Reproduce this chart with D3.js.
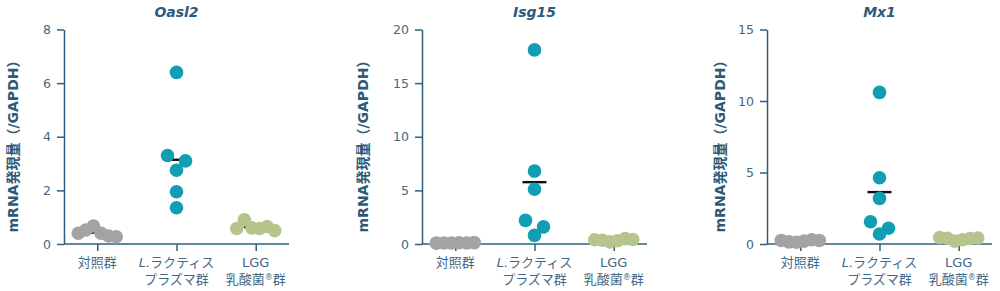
<!DOCTYPE html>
<html lang="ja">
<head>
<meta charset="utf-8">
<title>mRNA発現量</title>
<script src="https://d3js.org/d3.v7.min.js"></script>
<style>
  * { margin:0; padding:0; box-sizing:border-box; }
  body { background:#fff; width:1000px; height:291px; overflow:hidden; }
  svg { display:block; font-family:'DejaVu Sans','Noto Sans CJK JP',sans-serif; }
  .axis path, .axis line { stroke:#2e5f7e; stroke-width:1.5; }
  .axis text { fill:#3f6887; font-size:12.5px; font-family:'DejaVu Sans',sans-serif; }
  .title { fill:#2c5a7c; font-size:14px; font-weight:bold; font-style:italic; }
  .ylabel { fill:#2d5a78; font-size:14px; font-weight:bold; }
  .cat { fill:#3f6887; font-size:13px; font-family:'DejaVu Sans','Noto Sans CJK JP',sans-serif; }
</style>
</head>
<body>
<svg id="chart" width="1000" height="291"></svg>
<script>
// ─── data ───
const genes = ['Oasl2', 'Isg15', 'Mx1'];
const groups = ['control', 'plasma', 'lgg'];
const catLine1 = ['対照群', 'L.ラクティス', 'LGG'];
const catLine2 = ['', 'プラズマ群', '乳酸菌®群'];
const yMax = [8, 20, 15];
const yTicks = [[0, 2, 4, 6, 8], [0, 5, 10, 15, 20], [0, 5, 10, 15]];

const oasl2Control = [0.40, 0.52, 0.67, 0.40, 0.30, 0.27];
const oasl2Plasma  = [6.4, 3.3, 3.1, 2.75, 1.95, 1.35];
const oasl2LGG     = [0.58, 0.90, 0.60, 0.58, 0.65, 0.50];

const isg15Control = [0.08, 0.10, 0.09, 0.12, 0.10, 0.13];
const isg15Plasma  = [18.1, 6.8, 5.1, 2.2, 1.6, 0.8];
const isg15LGG     = [0.40, 0.35, 0.20, 0.30, 0.50, 0.42];

const mx1Control = [0.25, 0.15, 0.12, 0.20, 0.30, 0.25];
const mx1Plasma  = [10.6, 4.63, 3.19, 1.56, 1.1, 0.7];
const mx1LGG     = [0.45, 0.40, 0.20, 0.30, 0.38, 0.42];

const seriesByGene = [
  [oasl2Control, oasl2Plasma, oasl2LGG],
  [isg15Control, isg15Plasma, isg15LGG],
  [mx1Control, mx1Plasma, mx1LGG]
];

// ─── layout / style ───
const colors = { control: '#a3a3a3', plasma: '#119db3', lgg: '#b6c48d' };
const panelLeft = [64, 422, 767];
const labelGap = [46, 54, 42];
const panelW = 225, plotTop = 29.5, plotBottom = 244;
const dotR = 6.8;

const svg = d3.select('#chart');

// points placed in rows: close values share a row and spread sideways
function swarm(values, y) {
  const idx = values.map((v, i) => i).sort((a, b) => values[b] - values[a]);
  const off = new Array(values.length).fill(0);
  let row = [];
  let rowStart = null;
  const flush = () => {
    row.sort((a, b) => a - b);
    const m = row.length;
    const step = m > 1 ? Math.min(18, 38 / (m - 1)) : 0;
    row.forEach((i, k) => { off[i] = (k - (m - 1) / 2) * step; });
  };
  idx.forEach(i => {
    const py = y(values[i]);
    if (rowStart === null || py - rowStart >= 12) {
      if (row.length) flush();
      row = [i]; rowStart = py;
    } else row.push(i);
  });
  if (row.length) flush();
  return off;
}

genes.forEach((gene, p) => {
  const left = panelLeft[p];
  const g = svg.append('g');

  const x = d3.scalePoint().domain(groups).range([left, left + panelW]).padding(0.42);
  const y = d3.scaleLinear().domain([0, yMax[p]]).range([plotBottom, plotTop]);

  g.append('g').attr('class', 'axis')
    .attr('transform', `translate(${left},0)`)
    .call(d3.axisLeft(y).tickValues(yTicks[p]).tickSize(7).tickPadding(6).tickSizeOuter(0));

  const xa = g.append('g').attr('class', 'axis')
    .attr('transform', `translate(0,${plotBottom})`)
    .call(d3.axisBottom(x).tickSize(7).tickSizeOuter(0).tickFormat(''));
  xa.select('.domain').attr('d', `M${left},0H${left + panelW}`);

  // category labels
  groups.forEach((grp, i) => {
    const t = g.append('text').attr('class', 'cat')
      .attr('x', x(grp)).attr('y', 267).attr('text-anchor', 'middle');
    if (catLine1[i].startsWith('L.')) {
      t.append('tspan').attr('font-style', 'italic').text('L.');
      t.append('tspan').text(catLine1[i].slice(2));
    } else t.text(catLine1[i]);
    if (catLine2[i]) {
      const t2 = g.append('text').attr('class', 'cat')
        .attr('x', x(grp)).attr('y', 284).attr('text-anchor', 'middle');
      const parts = catLine2[i].split('®');
      if (parts.length > 1) {
        t2.append('tspan').text(parts[0]);
        t2.append('tspan').attr('font-size', '8px').attr('dy', -4).text('®');
        t2.append('tspan').attr('dy', 4).text(parts[1]);
      } else t2.text(catLine2[i]);
    }
  });

  // title
  g.append('text').attr('class', 'title')
    .attr('x', x('plasma')).attr('y', 17).attr('text-anchor', 'middle').text(gene);

  // y label
  g.append('text').attr('class', 'ylabel')
    .attr('transform', `translate(${left - labelGap[p]},143) rotate(-90)`)
    .attr('text-anchor', 'middle')
    .text('mRNA発現量（/GAPDH）');

  // means (behind dots) and dots
  seriesByGene[p].forEach((vals, gi) => {
    const grp = groups[gi];
    const m = d3.mean(vals);
    g.append('line')
      .attr('x1', x(grp) - 12).attr('x2', x(grp) + 12)
      .attr('y1', y(m)).attr('y2', y(m))
      .attr('stroke', '#111').attr('stroke-width', 2.4);
  });
  seriesByGene[p].forEach((vals, gi) => {
    const grp = groups[gi];
    const off = swarm(vals, y);
    g.append('g').selectAll('circle')
      .data(vals)
      .join('circle')
      .attr('cx', (d, i) => x(grp) + off[i])
      .attr('cy', d => y(d))
      .attr('r', dotR)
      .attr('fill', colors[grp]);
  });
});
</script>
</body>
</html>
